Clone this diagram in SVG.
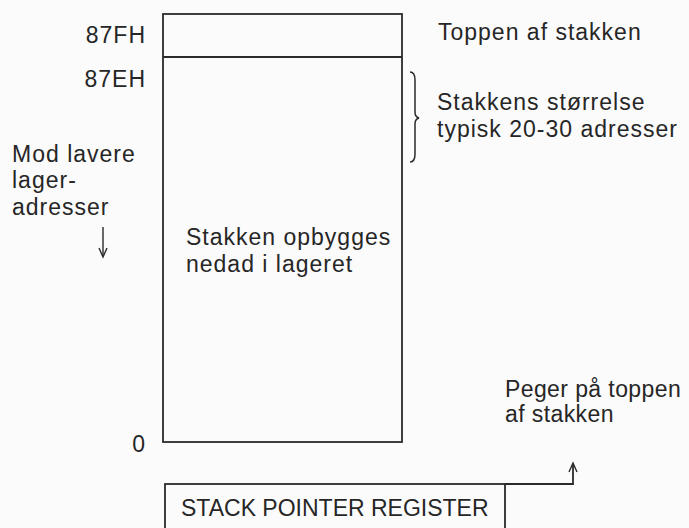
<svg xmlns="http://www.w3.org/2000/svg" width="689" height="528" viewBox="0 0 689 528">
<style>
  .t { font-family: "Liberation Sans", Arial, sans-serif; font-size: 23px; fill: #262626; letter-spacing: 1px; }
  .ln { fill: none; stroke: #2a2a2a; stroke-width: 1.8; }
  .ah { fill: none; stroke: #2a2a2a; stroke-width: 1.4; }
</style>
<rect width="689" height="528" fill="#fcfbfb"/>
<g id="stack-memory">
  <rect class="ln" x="163" y="14" width="239" height="428"/>
  <line class="ln" x1="163" y1="57" x2="402" y2="57"/>
  <text class="t" x="186" y="245">Stakken opbygges</text>
  <text class="t" x="186" y="272">nedad i lageret</text>
</g>
<g id="address-labels">
  <text class="t" x="146" y="43" text-anchor="end">87FH</text>
  <text class="t" x="146" y="87" text-anchor="end">87EH</text>
  <text class="t" x="146" y="452" text-anchor="end">0</text>
</g>
<g id="top-label">
  <text class="t" x="438" y="40">Toppen af stakken</text>
</g>
<g id="size-label">
  <path class="ln" style="stroke-width:1.5" d="M410,72 Q415,72 415,80 L415,112 Q415,117 419,118 Q415,119 415,124 L415,154 Q415,162 410,162"/>
  <text class="t" x="437" y="110">Stakkens størrelse</text>
  <text class="t" x="437" y="137">typisk 20-30 adresser</text>
</g>
<g id="direction-label">
  <text class="t" x="12" y="162">Mod lavere</text>
  <text class="t" x="12" y="188">lager-</text>
  <text class="t" x="12" y="215">adresser</text>
  <line class="ah" x1="103" y1="227" x2="103" y2="256"/>
  <path class="ah" d="M99,248 L103,257 L107,248"/>
</g>
<g id="stack-pointer-register">
  <rect class="ln" x="165" y="484" width="340" height="60"/>
  <text class="t" x="181" y="516" style="letter-spacing:0">STACK POINTER REGISTER</text>
</g>
<g id="pointer-label">
  <text class="t" x="505" y="397" style="letter-spacing:0.4px">Peger på toppen</text>
  <text class="t" x="505" y="422" style="letter-spacing:0.4px">af stakken</text>
</g>
<g id="connectors">
  <path class="ln" d="M505,484 H573 V464"/>
  <path class="ah" d="M569,472 L573,463 L577,472"/>
</g>
</svg>
